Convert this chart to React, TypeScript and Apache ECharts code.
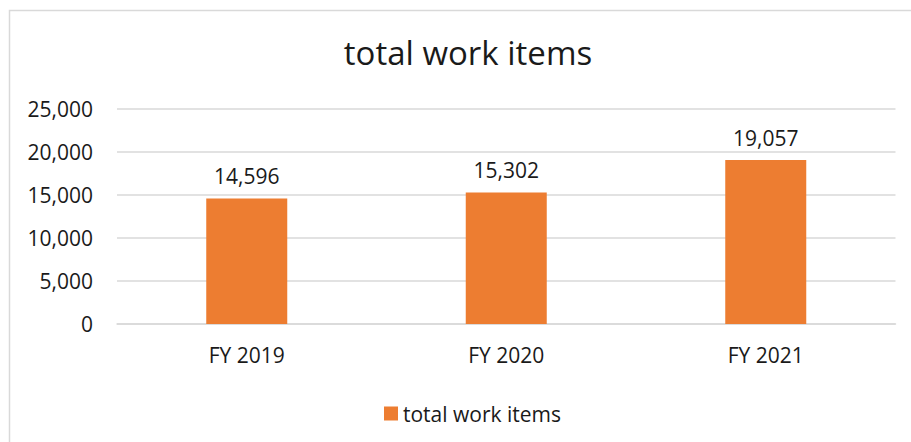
import React, { useEffect, useRef } from "react";
import * as echarts from "echarts";

const categories = ["FY 2019", "FY 2020", "FY 2021"];
const seriesName = "total work items";
const values = [14596, 15302, 19057];
const yTicks = [0, 5000, 10000, 15000, 20000, 25000];

const FONT = "'Open Sans', sans-serif";
const TEXT = "#1a1a1a";

export default function App() {
  const ref = useRef<HTMLDivElement>(null);
  useEffect(() => {
    document.body.style.margin = "0";
    const chart = echarts.init(ref.current!, null, { renderer: "svg" });
    chart.setOption({
      animation: false,
      backgroundColor: "#ffffff",
      textStyle: { fontFamily: FONT },
      title: {
        text: "total work items",
        left: 463,
        textAlign: "center",
        top: 31,
        textStyle: { fontFamily: FONT, fontSize: 33, fontWeight: "normal", color: TEXT },
      },
      graphic: [
        {
          type: "rect",
          shape: { x: 9.5, y: 10.5, width: 1000, height: 1000 },
          style: { fill: "none", stroke: "#d9d9d9", lineWidth: 1.5 },
          silent: true,
        },
      ],
      legend: {
        data: [seriesName],
        left: 379,
        top: 398,
        itemWidth: 14,
        itemHeight: 14,
        itemGap: 5,
        icon: "rect",
        textStyle: { fontFamily: FONT, fontSize: 21, color: TEXT },
      },
      grid: { left: 117, right: 15.5, top: 109, bottom: 118, containLabel: false },
      xAxis: {
        type: "category",
        data: categories,
        axisLine: { show: true, lineStyle: { color: "#d9d9d9", width: 1.5 } },
        axisTick: { show: false },
        axisLabel: { fontFamily: FONT, fontSize: 21, color: TEXT, margin: 20 },
      },
      yAxis: {
        type: "value",
        min: yTicks[0],
        max: yTicks[yTicks.length - 1],
        interval: yTicks[1] - yTicks[0],
        axisLine: { show: false },
        axisTick: { show: false },
        splitLine: { lineStyle: { color: "#d9d9d9", width: 1.5 } },
        axisLabel: {
          fontFamily: FONT,
          fontSize: 21,
          color: TEXT,
          margin: 24,
          formatter: (v: number) => v.toLocaleString("en-US"),
        },
      },
      series: [
        {
          name: seriesName,
          type: "bar",
          data: values,
          barWidth: 81,
          itemStyle: { color: "#ED7D31" },
          label: {
            show: true,
            position: "top",
            distance: 12,
            fontFamily: FONT,
            fontSize: 21,
            color: TEXT,
            formatter: (p: any) => Number(p.value).toLocaleString("en-US"),
          },
        },
      ],
    });
    return () => chart.dispose();
  }, []);
  return <div ref={ref} style={{ width: 911, height: 442 }} />;
}
